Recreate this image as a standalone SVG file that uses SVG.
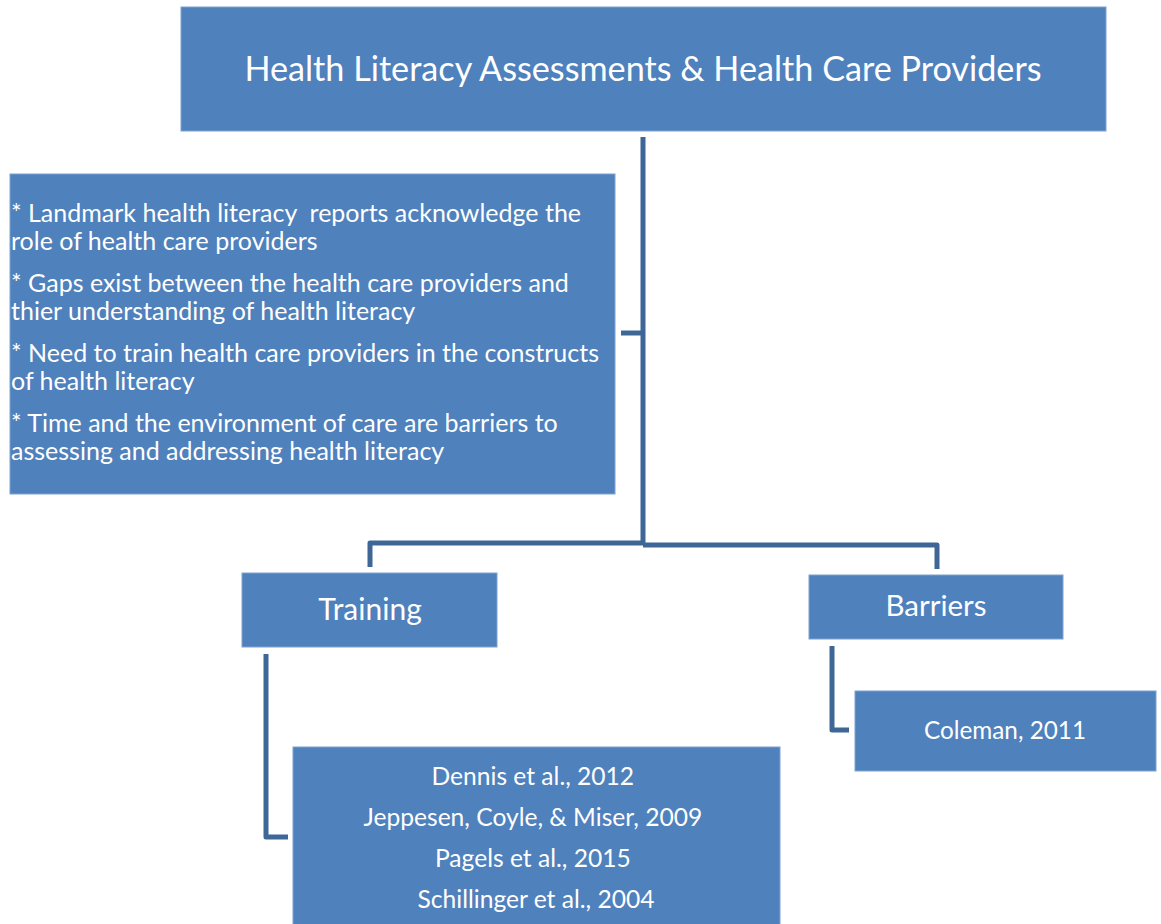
<svg xmlns="http://www.w3.org/2000/svg" width="1161" height="924" viewBox="0 0 1161 924">
<style>
.box{fill:#4F81BD;stroke:#7FA2CF;stroke-width:1}
.t{fill:#ffffff;font-family:Lato,"Open Sans","Liberation Sans",sans-serif}
.c{text-anchor:middle}
.ln{fill:none;stroke:#3E6697;stroke-width:5;stroke-linejoin:round}
</style>
<rect width="1161" height="924" fill="#ffffff"/>
<g id="connectors">
<path class="ln" d="M643,137 V545"/>
<path class="ln" d="M621,333 H643"/>
<path class="ln" d="M370,567 V543 H643"/>
<path class="ln" d="M643,545 H937 V569"/>
<path class="ln" d="M266,654 V837 H288"/>
<path class="ln" d="M832,646 V730 H849"/>
</g>
<g id="node-title">
<rect class="box" x="181" y="7" width="925" height="124"/>
<text class="t c" x="643" y="81" font-size="34.2">Health Literacy Assessments &amp; Health Care Providers</text>
</g>
<g id="node-summary">
<rect class="box" x="10" y="174" width="605" height="320"/>
<text class="t" font-size="25">
<tspan x="11" y="222">* Landmark health literacy&#160; reports acknowledge the</tspan>
<tspan x="11" y="250">role of health care providers</tspan>
<tspan x="11" y="292">* Gaps exist between the health care providers and</tspan>
<tspan x="11" y="320">thier understanding of health literacy</tspan>
<tspan x="11" y="362">* Need to train health care providers in the constructs</tspan>
<tspan x="11" y="390">of health literacy</tspan>
<tspan x="11" y="432">* Time and the environment of care are barriers to</tspan>
<tspan x="11" y="460">assessing and addressing health literacy</tspan>
</text>
</g>
<g id="node-training">
<rect class="box" x="242" y="573" width="255" height="74"/>
<text class="t c" x="370" y="620" font-size="30">Training</text>
</g>
<g id="node-barriers">
<rect class="box" x="809" y="575" width="254" height="64"/>
<text class="t c" x="936" y="616" font-size="29.5">Barriers</text>
</g>
<g id="node-coleman">
<rect class="box" x="855" y="691" width="301" height="80"/>
<text class="t c" x="1005" y="739" font-size="24.3">Coleman, 2011</text>
</g>
<g id="node-references">
<rect class="box" x="293" y="747" width="487" height="180"/>
<text class="t c" font-size="24.6">
<tspan x="536" y="785">Dennis et al., 2012</tspan>
<tspan x="536" y="826">Jeppesen, Coyle, &amp; Miser, 2009</tspan>
<tspan x="536" y="867">Pagels et al., 2015</tspan>
<tspan x="536" y="908">Schillinger et al., 2004</tspan>
</text>
</g>
</svg>
